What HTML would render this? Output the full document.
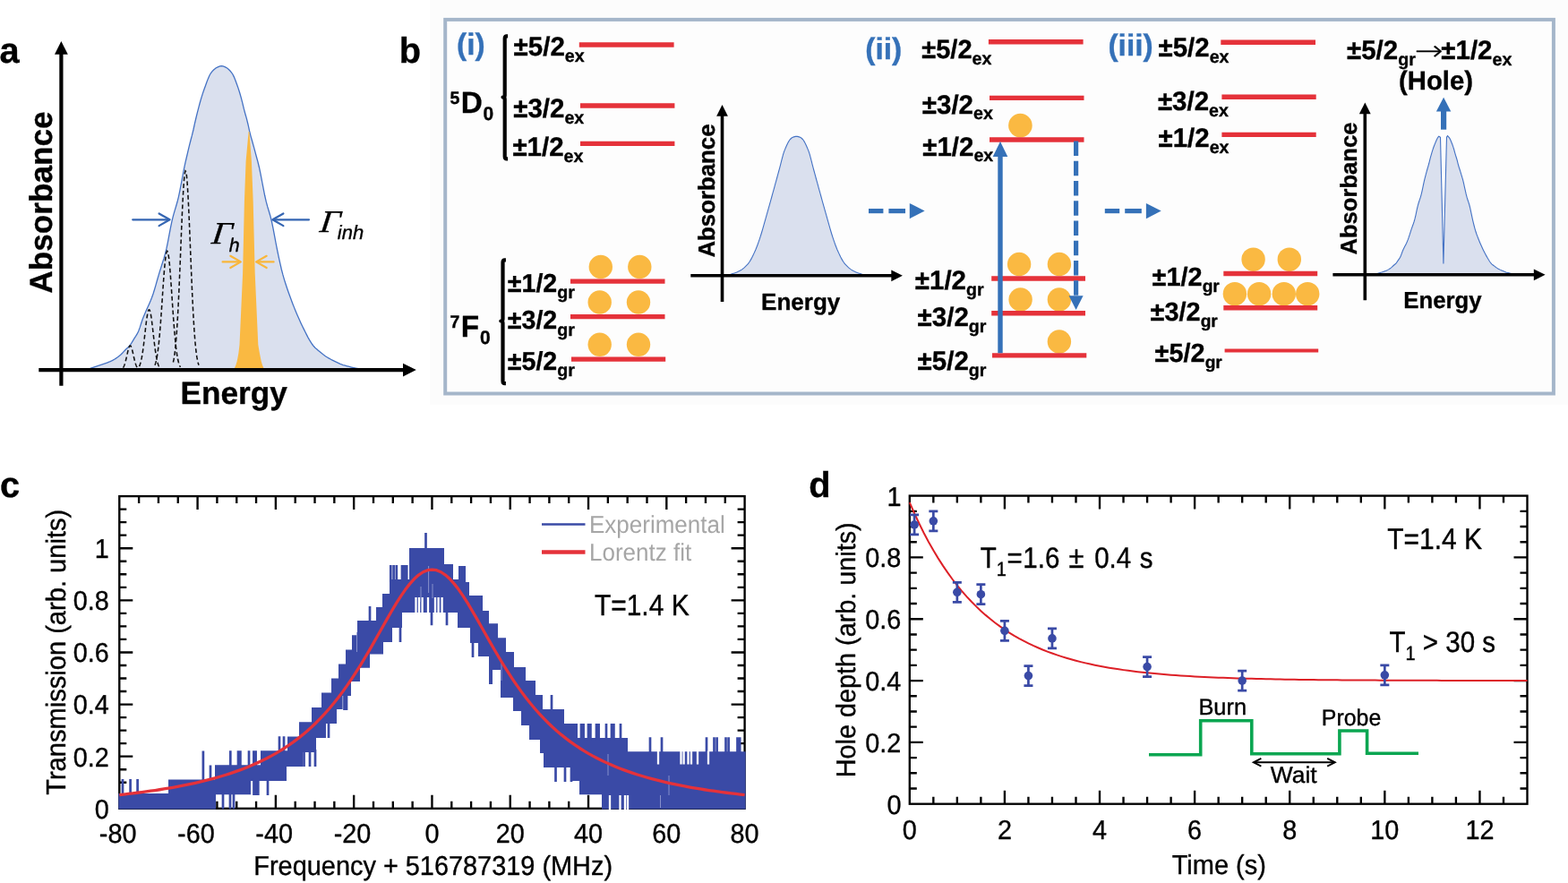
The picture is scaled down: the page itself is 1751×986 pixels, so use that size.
<!DOCTYPE html>
<html lang="en">
<head>
<meta charset="utf-8">
<title>Spectral hole burning figure</title>
<style>
html,body{margin:0;padding:0;background:#fff;}
body{width:1751px;height:986px;overflow:hidden;}
svg{display:block;font-family:"Liberation Sans",sans-serif;text-rendering:geometricPrecision;}
text{stroke:#000;stroke-width:0.35px;stroke-linejoin:round;}
</style>
</head>
<body>
<svg width="1751" height="986" viewBox="0 0 1751 986">
<rect x="480" y="0" width="1271" height="452" fill="#fcfcfc"/>
<rect x="497.2" y="21.9" width="1237.7" height="417.6" fill="#fdfdfd" stroke="#a5b6ca" stroke-width="4"/>
<text font-size="39.8" font-weight="bold" transform="translate(-0.4 69.8) scale(1 1.01)">a</text>
<path d="M97.8 412.6 L99.3 412.03 L100.79 411.47 L102.29 410.92 L103.78 410.38 L105.28 409.85 L106.77 409.33 L108.27 408.82 L109.76 408.31 L111.26 407.82 L112.75 407.35 L114.25 406.88 L115.74 406.39 L117.24 405.88 L118.73 405.34 L120.23 404.77 L121.72 404.19 L123.22 403.57 L124.71 402.89 L126.21 402.15 L127.7 401.31 L129.19 400.36 L130.69 399.3 L132.19 398.16 L133.68 396.96 L135.18 395.65 L136.67 394.17 L138.17 392.6 L139.66 391.04 L141.16 389.56 L142.65 388.17 L144.15 386.7 L145.64 384.95 L147.13 382.7 L148.63 380.18 L150.12 377.7 L151.62 375.4 L153.12 372.96 L154.61 369.96 L156.11 365.9 L157.6 361.26 L159.1 356.76 L160.59 352.91 L162.09 349.4 L163.58 346.07 L165.08 342.81 L166.57 339.49 L168.06 335.99 L169.56 332.2 L171.06 327.96 L172.55 323.19 L174.05 318.07 L175.54 312.8 L177.04 307.58 L178.53 302.63 L180.03 297.93 L181.52 293.28 L183.02 288.43 L184.51 283.16 L186 277.14 L187.5 269.9 L189 261.98 L190.49 254.08 L191.99 246.88 L193.48 240.89 L194.98 235.69 L196.47 230.75 L197.97 225.54 L199.46 219.54 L200.96 212.43 L202.45 204.58 L203.95 196.5 L205.44 188.69 L206.94 181.65 L208.43 175.25 L209.93 168.88 L211.42 162.6 L212.92 156.75 L214.41 151.18 L215.91 145 L217.4 138.17 L218.9 131.77 L220.39 125.71 L221.89 119.88 L223.38 114.24 L224.88 109.08 L226.37 104.37 L227.87 100 L229.36 95.93 L230.86 91.82 L232.35 87.88 L233.84 84.42 L235.34 81.76 L236.84 79.87 L238.33 78.25 L239.83 76.9 L241.32 75.84 L242.81 75.05 L244.31 74.4 L245.81 73.88 L247.3 73.6 L248.86 73.9 L250.42 74.44 L251.98 75.15 L253.54 76.01 L255.1 77.21 L256.66 78.72 L258.22 80.53 L259.78 82.75 L261.34 85.87 L262.9 89.69 L264.46 93.94 L266.02 98.34 L267.58 103.21 L269.14 108.65 L270.7 114.67 L272.26 121.2 L273.82 126.98 L275.38 132.42 L276.94 138.72 L278.5 145.93 L280.06 152.06 L281.62 157.52 L283.18 163.15 L284.74 168.94 L286.3 174.73 L287.86 180.38 L289.42 186.73 L290.98 194.17 L292.54 202.25 L294.1 210.45 L295.66 218.26 L297.22 225.17 L298.78 230.88 L300.34 235.97 L301.9 241.25 L303.46 247.51 L305.02 255.06 L306.58 263.35 L308.14 271.75 L309.7 279.65 L311.26 287.02 L312.82 294.23 L314.38 300.97 L315.94 306.94 L317.5 312.32 L319.06 317.31 L320.62 322 L322.18 326.48 L323.74 330.84 L325.3 335.08 L326.86 339.17 L328.42 343.12 L329.98 346.96 L331.54 350.68 L333.1 354.3 L334.66 357.82 L336.22 361.2 L337.78 364.47 L339.34 367.65 L340.9 370.77 L342.46 373.86 L344.02 376.83 L345.58 379.55 L347.14 382.13 L348.7 384.51 L350.26 386.54 L351.82 388.18 L353.38 389.61 L354.94 390.91 L356.5 392.2 L358.06 393.52 L359.62 394.81 L361.18 396.04 L362.74 397.18 L364.3 398.22 L365.86 399.19 L367.42 400.1 L368.98 400.97 L370.54 401.8 L372.1 402.58 L373.66 403.32 L375.22 404.06 L376.78 404.82 L378.34 405.59 L379.9 406.32 L381.46 406.97 L383.02 407.51 L384.58 407.97 L386.14 408.4 L387.7 408.82 L389.26 409.24 L390.82 409.65 L392.38 410.04 L393.94 410.42 L395.5 410.76 L397.06 411.06 L398.62 411.36 L400.18 411.7 L401.74 412.11 L403.3 412.6 Z" fill="#dae0ee"/>
<path d="M97.8 412.6 L99.3 412.03 L100.79 411.47 L102.29 410.92 L103.78 410.38 L105.28 409.85 L106.77 409.33 L108.27 408.82 L109.76 408.31 L111.26 407.82 L112.75 407.35 L114.25 406.88 L115.74 406.39 L117.24 405.88 L118.73 405.34 L120.23 404.77 L121.72 404.19 L123.22 403.57 L124.71 402.89 L126.21 402.15 L127.7 401.31 L129.19 400.36 L130.69 399.3 L132.19 398.16 L133.68 396.96 L135.18 395.65 L136.67 394.17 L138.17 392.6 L139.66 391.04 L141.16 389.56 L142.65 388.17 L144.15 386.7 L145.64 384.95 L147.13 382.7 L148.63 380.18 L150.12 377.7 L151.62 375.4 L153.12 372.96 L154.61 369.96 L156.11 365.9 L157.6 361.26 L159.1 356.76 L160.59 352.91 L162.09 349.4 L163.58 346.07 L165.08 342.81 L166.57 339.49 L168.06 335.99 L169.56 332.2 L171.06 327.96 L172.55 323.19 L174.05 318.07 L175.54 312.8 L177.04 307.58 L178.53 302.63 L180.03 297.93 L181.52 293.28 L183.02 288.43 L184.51 283.16 L186 277.14 L187.5 269.9 L189 261.98 L190.49 254.08 L191.99 246.88 L193.48 240.89 L194.98 235.69 L196.47 230.75 L197.97 225.54 L199.46 219.54 L200.96 212.43 L202.45 204.58 L203.95 196.5 L205.44 188.69 L206.94 181.65 L208.43 175.25 L209.93 168.88 L211.42 162.6 L212.92 156.75 L214.41 151.18 L215.91 145 L217.4 138.17 L218.9 131.77 L220.39 125.71 L221.89 119.88 L223.38 114.24 L224.88 109.08 L226.37 104.37 L227.87 100 L229.36 95.93 L230.86 91.82 L232.35 87.88 L233.84 84.42 L235.34 81.76 L236.84 79.87 L238.33 78.25 L239.83 76.9 L241.32 75.84 L242.81 75.05 L244.31 74.4 L245.81 73.88 L247.3 73.6 L248.86 73.9 L250.42 74.44 L251.98 75.15 L253.54 76.01 L255.1 77.21 L256.66 78.72 L258.22 80.53 L259.78 82.75 L261.34 85.87 L262.9 89.69 L264.46 93.94 L266.02 98.34 L267.58 103.21 L269.14 108.65 L270.7 114.67 L272.26 121.2 L273.82 126.98 L275.38 132.42 L276.94 138.72 L278.5 145.93 L280.06 152.06 L281.62 157.52 L283.18 163.15 L284.74 168.94 L286.3 174.73 L287.86 180.38 L289.42 186.73 L290.98 194.17 L292.54 202.25 L294.1 210.45 L295.66 218.26 L297.22 225.17 L298.78 230.88 L300.34 235.97 L301.9 241.25 L303.46 247.51 L305.02 255.06 L306.58 263.35 L308.14 271.75 L309.7 279.65 L311.26 287.02 L312.82 294.23 L314.38 300.97 L315.94 306.94 L317.5 312.32 L319.06 317.31 L320.62 322 L322.18 326.48 L323.74 330.84 L325.3 335.08 L326.86 339.17 L328.42 343.12 L329.98 346.96 L331.54 350.68 L333.1 354.3 L334.66 357.82 L336.22 361.2 L337.78 364.47 L339.34 367.65 L340.9 370.77 L342.46 373.86 L344.02 376.83 L345.58 379.55 L347.14 382.13 L348.7 384.51 L350.26 386.54 L351.82 388.18 L353.38 389.61 L354.94 390.91 L356.5 392.2 L358.06 393.52 L359.62 394.81 L361.18 396.04 L362.74 397.18 L364.3 398.22 L365.86 399.19 L367.42 400.1 L368.98 400.97 L370.54 401.8 L372.1 402.58 L373.66 403.32 L375.22 404.06 L376.78 404.82 L378.34 405.59 L379.9 406.32 L381.46 406.97 L383.02 407.51 L384.58 407.97 L386.14 408.4 L387.7 408.82 L389.26 409.24 L390.82 409.65 L392.38 410.04 L393.94 410.42 L395.5 410.76 L397.06 411.06 L398.62 411.36 L400.18 411.7 L401.74 412.11 L403.3 412.6" fill="none" stroke="#4472c4" stroke-width="1.3"/>
<path d="M137.5 410.57 L137.94 409.85 L138.38 408.98 L138.81 407.94 L139.25 406.72 L139.69 405.33 L140.12 403.77 L140.56 402.05 L141 400.21 L141.44 398.27 L141.88 396.28 L142.31 394.31 L142.75 392.41 L143.19 390.65 L143.62 389.09 L144.06 387.8 L144.5 386.83 L144.94 386.22 L145.38 386 L145.81 386.18 L146.25 386.74 L146.69 387.67 L147.12 388.93 L147.56 390.46 L148 392.2 L148.44 394.09 L148.88 396.06 L149.31 398.04 L149.75 399.99 L150.19 401.85 L150.62 403.58 L151.06 405.16 L151.5 406.57 L151.94 407.81 L152.38 408.87 L152.81 409.76 L153.25 410.49 L153.69 411.09 L154.12 411.57 L154.56 411.94 L155 412.23" fill="none" stroke="#111" stroke-width="1.55" stroke-dasharray="4.8 3"/>
<path d="M155.5 409.14 L156.06 407.87 L156.62 406.28 L157.19 404.33 L157.75 401.98 L158.31 399.19 L158.88 395.96 L159.44 392.29 L160 388.2 L160.56 383.74 L161.12 379 L161.69 374.06 L162.25 369.08 L162.81 364.19 L163.38 359.57 L163.94 355.37 L164.5 351.77 L165.06 348.91 L165.62 346.91 L166.19 345.86 L166.75 345.8 L167.31 346.74 L167.88 348.64 L168.44 351.41 L169 354.94 L169.56 359.08 L170.12 363.66 L170.69 368.53 L171.25 373.51 L171.81 378.45 L172.38 383.23 L172.94 387.72 L173.5 391.86 L174.06 395.58 L174.62 398.86 L175.19 401.69 L175.75 404.09 L176.31 406.08 L176.88 407.71 L177.44 409.02 L178 410.04" fill="none" stroke="#111" stroke-width="1.55" stroke-dasharray="4.8 3"/>
<path d="M173 407.69 L173.71 405.64 L174.43 402.98 L175.14 399.59 L175.85 395.37 L176.56 390.22 L177.28 384.07 L177.99 376.89 L178.7 368.71 L179.41 359.62 L180.12 349.77 L180.84 339.39 L181.55 328.79 L182.26 318.33 L182.97 308.4 L183.69 299.42 L184.4 291.81 L185.11 285.91 L185.82 282.03 L186.54 280.36 L187.25 280.99 L187.96 283.88 L188.68 288.89 L189.39 295.76 L190.1 304.16 L190.81 313.71 L191.53 323.98 L192.24 334.56 L192.95 345.08 L193.66 355.21 L194.38 364.67 L195.09 373.28 L195.8 380.92 L196.51 387.54 L197.22 393.14 L197.94 397.78 L198.65 401.53 L199.36 404.51 L200.07 406.82 L200.79 408.58 L201.5 409.9" fill="none" stroke="#111" stroke-width="1.55" stroke-dasharray="4.8 3"/>
<path d="M193.4 404.51 L194.12 401.19 L194.83 396.87 L195.55 391.34 L196.26 384.43 L196.97 375.97 L197.69 365.83 L198.41 353.96 L199.12 340.4 L199.84 325.26 L200.55 308.81 L201.27 291.43 L201.98 273.61 L202.69 255.96 L203.41 239.15 L204.12 223.89 L204.84 210.86 L205.56 200.68 L206.27 193.87 L206.99 190.78 L207.7 191.55 L208.41 196.16 L209.13 204.36 L209.84 215.74 L210.56 229.74 L211.28 245.71 L211.99 262.94 L212.71 280.73 L213.42 298.44 L214.13 315.5 L214.85 331.47 L215.56 346 L216.28 358.9 L217 370.08 L217.71 379.54 L218.43 387.36 L219.14 393.7 L219.85 398.73 L220.57 402.63 L221.28 405.59 L222 407.8" fill="none" stroke="#111" stroke-width="1.55" stroke-dasharray="4.8 3"/>
<path d="M260.8 413.4 Q263.6 408.4 264.6 403.8 Q265.7 398.6 266.4 394.3 L267.5 385 L271.1 305 L272.9 225 L274.6 180 L277.6 147 L278.4 147 L280.9 180 L282.7 225 L284.7 305 L288.3 385 L289.9 394.3 Q290.7 398.6 291.8 403.8 Q292.8 408.4 295.6 413.4 Z" fill="#fab942"/>
<line x1="68.4" y1="59.8" x2="68.4" y2="430.7" stroke="#000" stroke-width="4.2"/>
<polygon points="68.4,46 61,60.8 75.8,60.8" fill="#000"/>
<line x1="43.3" y1="413.1" x2="451" y2="413.1" stroke="#000" stroke-width="4.2"/>
<polygon points="464.8,413.1 450,405.7 450,420.5" fill="#000"/>
<line x1="148.2" y1="245.3" x2="188.8" y2="245.3" stroke="#3465b2" stroke-width="2.2" stroke-linecap="round"/>
<path d="M177.6 238.5 L189.6 245.3 L177.6 252.1" fill="none" stroke="#3465b2" stroke-width="2.2" stroke-linejoin="round" stroke-linecap="round"/>
<line x1="345" y1="245.3" x2="305.2" y2="245.3" stroke="#3465b2" stroke-width="2.2" stroke-linecap="round"/>
<path d="M316.4 238.5 L304.4 245.3 L316.4 252.1" fill="none" stroke="#3465b2" stroke-width="2.2" stroke-linejoin="round" stroke-linecap="round"/>
<line x1="248.6" y1="292.4" x2="268.1" y2="292.4" stroke="#f9b63a" stroke-width="2.2" stroke-linecap="round"/>
<path d="M257.3 285.8 L268.9 292.4 L257.3 299" fill="none" stroke="#f9b63a" stroke-width="2.2" stroke-linejoin="round" stroke-linecap="round"/>
<line x1="305.6" y1="292.4" x2="286.9" y2="292.4" stroke="#f9b63a" stroke-width="2.2" stroke-linecap="round"/>
<path d="M297.7 285.8 L286.1 292.4 L297.7 299" fill="none" stroke="#f9b63a" stroke-width="2.2" stroke-linejoin="round" stroke-linecap="round"/>
<text transform="translate(235.6 272.3) skewX(-7) scale(1.12 1)" font-size="35" font-style="italic" font-family='"Liberation Serif", serif'>Γ</text>
<text x="255.8" y="280.5" font-size="21.4" font-style="italic">h</text>
<text transform="translate(356.3 258.9) skewX(-7) scale(1.12 1)" font-size="35" font-style="italic" font-family='"Liberation Serif", serif'>Γ</text>
<text x="376.8" y="267.4" font-size="22" font-style="italic">inh</text>
<text transform="translate(57.6 226) rotate(-90) scale(1 1.01)" font-size="35.2" font-weight="bold" text-anchor="middle">Absorbance</text>
<text font-size="35.2" font-weight="bold" text-anchor="middle" transform="translate(261.2 450.6) scale(1 1.01)">Energy</text>
<text font-size="39.8" font-weight="bold" transform="translate(445.8 69.8) scale(1 1.01)">b</text>
<text font-size="33.5" font-weight="bold" fill="#3571b8" style="stroke:#3571b8" transform="translate(510 61.3) scale(1 1.01)">(i)</text>
<path d="M567.1 40.4L565.9 40.4 Q563.7 40.4 563.7 43 L563.7 106.4 Q563.7 108.6 561.5 108.6 Q563.7 108.6 563.7 110.8 L563.7 174.8 Q563.7 177.4 565.9 177.4 L567.1 177.4" fill="none" stroke="#000" stroke-width="4.2" stroke-linejoin="round"/>
<text transform="translate(573.6 62.1) scale(1 1.01)" font-size="29.5" font-weight="bold">±5/2<tspan font-size="19.6" dy="6.73">ex</tspan></text>
<text transform="translate(573.2 130.8) scale(1 1.01)" font-size="29.5" font-weight="bold">±3/2<tspan font-size="19.6" dy="6.73">ex</tspan></text>
<text transform="translate(572.4 174) scale(1 1.01)" font-size="29.5" font-weight="bold">±1/2<tspan font-size="19.6" dy="6.73">ex</tspan></text>
<line x1="646.8" y1="50" x2="752.6" y2="50" stroke="#e5323a" stroke-width="5.4"/>
<line x1="648" y1="118" x2="753.4" y2="118" stroke="#e5323a" stroke-width="5.4"/>
<line x1="648" y1="160.4" x2="753.4" y2="160.4" stroke="#e5323a" stroke-width="5.4"/>
<text transform="translate(502.6 125.7) scale(1 1.01)" font-size="33.3" font-weight="bold"><tspan font-size="19.5" dy="-9.5">5</tspan><tspan dy="9.5" dx="1.3">D</tspan><tspan font-size="21" dy="8" dx="0.6">0</tspan></text>
<path d="M564.9 290.4L563.7 290.4 Q561.5 290.4 561.5 293 L561.5 356.3 Q561.5 358.5 559.3 358.5 Q561.5 358.5 561.5 360.7 L561.5 425.6 Q561.5 428.2 563.7 428.2 L564.9 428.2" fill="none" stroke="#000" stroke-width="4.2" stroke-linejoin="round"/>
<circle cx="670.8" cy="298" r="13.2" fill="#fab942"/>
<circle cx="714.3" cy="298" r="13.2" fill="#fab942"/>
<circle cx="669.7" cy="337.5" r="13.2" fill="#fab942"/>
<circle cx="713" cy="337.5" r="13.2" fill="#fab942"/>
<circle cx="669.7" cy="384.8" r="13.2" fill="#fab942"/>
<circle cx="713" cy="384.8" r="13.2" fill="#fab942"/>
<line x1="637" y1="314.1" x2="742.5" y2="314.1" stroke="#e5323a" stroke-width="5.4"/>
<line x1="637" y1="353.6" x2="742.5" y2="353.6" stroke="#e5323a" stroke-width="5.4"/>
<line x1="638" y1="401.1" x2="743.2" y2="401.1" stroke="#e5323a" stroke-width="5.4"/>
<text transform="translate(566.8 325.7) scale(1 1.01)" font-size="28.6" font-weight="bold">±1/2<tspan font-size="19.6" dy="7.33">gr</tspan></text>
<text transform="translate(566.8 367.2) scale(1 1.01)" font-size="28.6" font-weight="bold">±3/2<tspan font-size="19.6" dy="7.33">gr</tspan></text>
<text transform="translate(566.8 412.5) scale(1 1.01)" font-size="28.6" font-weight="bold">±5/2<tspan font-size="19.6" dy="7.33">gr</tspan></text>
<text transform="translate(502.6 375.5) scale(1 1.01)" font-size="33.3" font-weight="bold"><tspan font-size="19.5" dy="-9.5">7</tspan><tspan dy="9.5" dx="1.3">F</tspan><tspan font-size="21" dy="8" dx="0.8">0</tspan></text>
<path d="M810.4 307.6 L811.39 307.42 L812.38 307.21 L813.36 306.99 L814.35 306.74 L815.34 306.47 L816.32 306.18 L817.31 305.88 L818.3 305.56 L819.29 305.24 L820.27 304.9 L821.26 304.54 L822.25 304.15 L823.24 303.74 L824.23 303.29 L825.21 302.81 L826.2 302.29 L827.19 301.73 L828.17 301.11 L829.16 300.43 L830.15 299.67 L831.14 298.84 L832.12 297.93 L833.11 296.96 L834.1 295.91 L835.09 294.78 L836.07 293.58 L837.06 292.21 L838.05 290.63 L839.04 288.89 L840.02 287 L841.01 284.99 L842 282.88 L842.99 280.72 L843.98 278.48 L844.96 276.05 L845.95 273.44 L846.94 270.68 L847.92 267.81 L848.91 264.86 L849.9 261.77 L850.89 258.49 L851.88 255.08 L852.86 251.61 L853.85 248.12 L854.84 244.68 L855.82 241.21 L856.81 237.71 L857.8 234.18 L858.79 230.65 L859.77 227.11 L860.76 223.56 L861.75 220.01 L862.74 216.45 L863.73 212.88 L864.71 209.3 L865.7 205.71 L866.69 202.11 L867.67 198.5 L868.66 194.88 L869.65 191.27 L870.64 187.66 L871.62 183.88 L872.61 179.93 L873.6 176.03 L874.59 172.43 L875.57 169.36 L876.56 166.86 L877.55 164.49 L878.54 162.26 L879.52 160.21 L880.51 158.36 L881.5 156.78 L882.49 155.49 L883.48 154.54 L884.46 153.83 L885.45 153.27 L886.44 152.89 L887.42 152.61 L888.41 152.4 L889.4 152.3 L890.39 152.4 L891.38 152.61 L892.36 152.89 L893.35 153.27 L894.34 153.83 L895.32 154.54 L896.31 155.49 L897.3 156.78 L898.29 158.36 L899.27 160.21 L900.26 162.26 L901.25 164.49 L902.24 166.86 L903.23 169.36 L904.21 172.43 L905.2 176.03 L906.19 179.93 L907.17 183.88 L908.16 187.66 L909.15 191.27 L910.14 194.88 L911.12 198.5 L912.11 202.11 L913.1 205.71 L914.09 209.3 L915.07 212.88 L916.06 216.45 L917.05 220.01 L918.04 223.56 L919.02 227.11 L920.01 230.65 L921 234.18 L921.99 237.71 L922.98 241.21 L923.96 244.68 L924.95 248.12 L925.94 251.61 L926.92 255.08 L927.91 258.49 L928.9 261.77 L929.89 264.86 L930.88 267.81 L931.86 270.68 L932.85 273.44 L933.84 276.05 L934.82 278.48 L935.81 280.72 L936.8 282.88 L937.79 284.99 L938.77 287 L939.76 288.89 L940.75 290.63 L941.74 292.21 L942.73 293.58 L943.71 294.78 L944.7 295.91 L945.69 296.96 L946.67 297.93 L947.66 298.84 L948.65 299.67 L949.64 300.43 L950.62 301.11 L951.61 301.73 L952.6 302.29 L953.59 302.81 L954.57 303.29 L955.56 303.74 L956.55 304.15 L957.54 304.54 L958.52 304.9 L959.51 305.24 L960.5 305.56 L961.49 305.88 L962.48 306.18 L963.46 306.47 L964.45 306.74 L965.44 306.99 L966.42 307.21 L967.41 307.42 L968.4 307.6 Z" fill="#dae0ee"/>
<path d="M810.4 307.6 L811.39 307.42 L812.38 307.21 L813.36 306.99 L814.35 306.74 L815.34 306.47 L816.32 306.18 L817.31 305.88 L818.3 305.56 L819.29 305.24 L820.27 304.9 L821.26 304.54 L822.25 304.15 L823.24 303.74 L824.23 303.29 L825.21 302.81 L826.2 302.29 L827.19 301.73 L828.17 301.11 L829.16 300.43 L830.15 299.67 L831.14 298.84 L832.12 297.93 L833.11 296.96 L834.1 295.91 L835.09 294.78 L836.07 293.58 L837.06 292.21 L838.05 290.63 L839.04 288.89 L840.02 287 L841.01 284.99 L842 282.88 L842.99 280.72 L843.98 278.48 L844.96 276.05 L845.95 273.44 L846.94 270.68 L847.92 267.81 L848.91 264.86 L849.9 261.77 L850.89 258.49 L851.88 255.08 L852.86 251.61 L853.85 248.12 L854.84 244.68 L855.82 241.21 L856.81 237.71 L857.8 234.18 L858.79 230.65 L859.77 227.11 L860.76 223.56 L861.75 220.01 L862.74 216.45 L863.73 212.88 L864.71 209.3 L865.7 205.71 L866.69 202.11 L867.67 198.5 L868.66 194.88 L869.65 191.27 L870.64 187.66 L871.62 183.88 L872.61 179.93 L873.6 176.03 L874.59 172.43 L875.57 169.36 L876.56 166.86 L877.55 164.49 L878.54 162.26 L879.52 160.21 L880.51 158.36 L881.5 156.78 L882.49 155.49 L883.48 154.54 L884.46 153.83 L885.45 153.27 L886.44 152.89 L887.42 152.61 L888.41 152.4 L889.4 152.3 L890.39 152.4 L891.38 152.61 L892.36 152.89 L893.35 153.27 L894.34 153.83 L895.32 154.54 L896.31 155.49 L897.3 156.78 L898.29 158.36 L899.27 160.21 L900.26 162.26 L901.25 164.49 L902.24 166.86 L903.23 169.36 L904.21 172.43 L905.2 176.03 L906.19 179.93 L907.17 183.88 L908.16 187.66 L909.15 191.27 L910.14 194.88 L911.12 198.5 L912.11 202.11 L913.1 205.71 L914.09 209.3 L915.07 212.88 L916.06 216.45 L917.05 220.01 L918.04 223.56 L919.02 227.11 L920.01 230.65 L921 234.18 L921.99 237.71 L922.98 241.21 L923.96 244.68 L924.95 248.12 L925.94 251.61 L926.92 255.08 L927.91 258.49 L928.9 261.77 L929.89 264.86 L930.88 267.81 L931.86 270.68 L932.85 273.44 L933.84 276.05 L934.82 278.48 L935.81 280.72 L936.8 282.88 L937.79 284.99 L938.77 287 L939.76 288.89 L940.75 290.63 L941.74 292.21 L942.73 293.58 L943.71 294.78 L944.7 295.91 L945.69 296.96 L946.67 297.93 L947.66 298.84 L948.65 299.67 L949.64 300.43 L950.62 301.11 L951.61 301.73 L952.6 302.29 L953.59 302.81 L954.57 303.29 L955.56 303.74 L956.55 304.15 L957.54 304.54 L958.52 304.9 L959.51 305.24 L960.5 305.56 L961.49 305.88 L962.48 306.18 L963.46 306.47 L964.45 306.74 L965.44 306.99 L966.42 307.21 L967.41 307.42 L968.4 307.6" fill="none" stroke="#4472c4" stroke-width="1.1"/>
<line x1="806.5" y1="128.7" x2="806.5" y2="337" stroke="#000" stroke-width="3.6"/>
<polygon points="806.5,117.1 800.1,129.7 812.9,129.7" fill="#000"/>
<line x1="771.3" y1="307.8" x2="996.3" y2="307.8" stroke="#000" stroke-width="3.6"/>
<polygon points="1007.9,307.8 995.3,301.4 995.3,314.2" fill="#000"/>
<text transform="translate(797.7 213) rotate(-90) scale(1 1.01)" font-size="25.8" font-weight="bold" text-anchor="middle">Absorbance</text>
<text font-size="26" font-weight="bold" text-anchor="middle" transform="translate(894.2 346.2) scale(1 1.01)">Energy</text>
<line x1="970" y1="235.6" x2="986.4" y2="235.6" stroke="#3571b8" stroke-width="5.2"/>
<line x1="992.4" y1="235.6" x2="1011" y2="235.6" stroke="#3571b8" stroke-width="5.2"/>
<polygon points="1032.6,235.6 1015.8,227 1015.8,244.2" fill="#3571b8"/>
<line x1="1233.8" y1="235.6" x2="1250.2" y2="235.6" stroke="#3571b8" stroke-width="5.2"/>
<line x1="1256.2" y1="235.6" x2="1274.8" y2="235.6" stroke="#3571b8" stroke-width="5.2"/>
<polygon points="1296.7,235.6 1279.9,227 1279.9,244.2" fill="#3571b8"/>
<text font-size="33.6" font-weight="bold" fill="#3571b8" style="stroke:#3571b8" transform="translate(966.2 65.6) scale(1 1.01)">(ii)</text>
<text transform="translate(1029.2 64.9) scale(1 1.01)" font-size="29.1" font-weight="bold">±5/2<tspan font-size="19.6" dy="6.73">ex</tspan></text>
<text transform="translate(1029.8 126.6) scale(1 1.01)" font-size="29.5" font-weight="bold">±3/2<tspan font-size="19.6" dy="6.73">ex</tspan></text>
<text transform="translate(1030.2 173.6) scale(1 1.01)" font-size="29.5" font-weight="bold">±1/2<tspan font-size="19.6" dy="6.73">ex</tspan></text>
<circle cx="1139.4" cy="140.1" r="13.3" fill="#fab942"/>
<line x1="1103.9" y1="46.8" x2="1209.6" y2="46.8" stroke="#e5323a" stroke-width="5.4"/>
<line x1="1105" y1="109.4" x2="1210.5" y2="109.4" stroke="#e5323a" stroke-width="5.4"/>
<line x1="1105" y1="156" x2="1210.5" y2="156" stroke="#e5323a" stroke-width="5.4"/>
<circle cx="1138.1" cy="295" r="13.2" fill="#fab942"/>
<circle cx="1182.9" cy="295" r="13.2" fill="#fab942"/>
<circle cx="1139.6" cy="334.5" r="13.2" fill="#fab942"/>
<circle cx="1182.9" cy="334.5" r="13.2" fill="#fab942"/>
<circle cx="1182.9" cy="381.5" r="13.2" fill="#fab942"/>
<line x1="1107.2" y1="311" x2="1212" y2="311" stroke="#e5323a" stroke-width="5.4"/>
<line x1="1107.2" y1="349.8" x2="1212" y2="349.8" stroke="#e5323a" stroke-width="5.4"/>
<line x1="1108" y1="396.9" x2="1213.3" y2="396.9" stroke="#e5323a" stroke-width="5.4"/>
<text transform="translate(1021.8 322.6) scale(1 1.01)" font-size="29.5" font-weight="bold">±1/2<tspan font-size="19.6" dy="7.33">gr</tspan></text>
<text transform="translate(1024.6 363.9) scale(1 1.01)" font-size="29.5" font-weight="bold">±3/2<tspan font-size="19.6" dy="7.33">gr</tspan></text>
<text transform="translate(1024.6 412.5) scale(1 1.01)" font-size="29.5" font-weight="bold">±5/2<tspan font-size="19.6" dy="7.33">gr</tspan></text>
<line x1="1117" y1="394.2" x2="1117" y2="173" stroke="#3571b8" stroke-width="5.4"/>
<polygon points="1117,158 1108.7,175 1125.3,175" fill="#3571b8"/>
<line x1="1201.6" y1="157.6" x2="1201.6" y2="330.6" stroke="#3571b8" stroke-width="5.2" stroke-dasharray="16.4 5.85"/>
<polygon points="1201.6,345.9 1193.6,330.2 1209.6,330.2" fill="#3571b8"/>
<text font-size="33.6" font-weight="bold" fill="#3571b8" style="stroke:#3571b8" transform="translate(1237.4 61.7) scale(1 1.01)">(iii)</text>
<text transform="translate(1293.5 63.3) scale(1 1.01)" font-size="29.5" font-weight="bold">±5/2<tspan font-size="19.6" dy="6.73">ex</tspan></text>
<text transform="translate(1292.9 123.1) scale(1 1.01)" font-size="29.5" font-weight="bold">±3/2<tspan font-size="19.6" dy="6.73">ex</tspan></text>
<text transform="translate(1293.5 164.3) scale(1 1.01)" font-size="29.5" font-weight="bold">±1/2<tspan font-size="19.6" dy="6.73">ex</tspan></text>
<line x1="1363.3" y1="47.3" x2="1469" y2="47.3" stroke="#e5323a" stroke-width="5.4"/>
<line x1="1364.4" y1="108.2" x2="1469.7" y2="108.2" stroke="#e5323a" stroke-width="5.4"/>
<line x1="1364.4" y1="150.4" x2="1469.7" y2="150.4" stroke="#e5323a" stroke-width="5.4"/>
<circle cx="1399.6" cy="289.7" r="13.2" fill="#fab942"/>
<circle cx="1439.8" cy="289.7" r="13.2" fill="#fab942"/>
<circle cx="1378.9" cy="328.2" r="13.2" fill="#fab942"/>
<circle cx="1406.1" cy="328.2" r="13.2" fill="#fab942"/>
<circle cx="1433.8" cy="328.2" r="13.2" fill="#fab942"/>
<circle cx="1460.2" cy="328.2" r="13.2" fill="#fab942"/>
<line x1="1366.3" y1="305.5" x2="1471.2" y2="305.5" stroke="#e5323a" stroke-width="5.4"/>
<line x1="1366.3" y1="343.8" x2="1471.2" y2="343.8" stroke="#e5323a" stroke-width="5.4"/>
<line x1="1367.6" y1="391.6" x2="1472.2" y2="391.6" stroke="#e5323a" stroke-width="4"/>
<text transform="translate(1286.6 318.6) scale(1 1.01)" font-size="28.9" font-weight="bold">±1/2<tspan font-size="19.2" dy="7.33">gr</tspan></text>
<text transform="translate(1284.6 357.9) scale(1 1.01)" font-size="28.9" font-weight="bold">±3/2<tspan font-size="19.2" dy="7.33">gr</tspan></text>
<text transform="translate(1289.6 403.8) scale(1 1.01)" font-size="28.9" font-weight="bold">±5/2<tspan font-size="19.2" dy="7.33">gr</tspan></text>
<text transform="translate(1504 65.9) scale(1 1.01)" font-size="29.5" font-weight="bold">±5/2<tspan font-size="19.6" dy="7.33">gr</tspan></text>
<text transform="translate(1579.7 66.9) scale(1.06 0.86)" font-size="36" font-weight="200" font-family='"DejaVu Sans", sans-serif'>→</text>
<text transform="translate(1609.3 65.9) scale(1 1.01)" font-size="29.5" font-weight="bold">±1/2<tspan font-size="19.6" dy="6.73">ex</tspan></text>
<text font-size="29.3" font-weight="bold" text-anchor="middle" transform="translate(1603.5 100.4) scale(1 1.01)">(Hole)</text>
<line x1="1612.1" y1="144.7" x2="1612.1" y2="123" stroke="#3571b8" stroke-width="6.2"/>
<polygon points="1612.1,108.7 1603.9,124.5 1620.3,124.5" fill="#3571b8"/>
<path d="M1534.26 306.6 L1535.12 306.3 L1535.99 306.02 L1536.85 305.74 L1537.72 305.46 L1538.58 305.19 L1539.44 304.93 L1540.31 304.66 L1541.17 304.41 L1542.03 304.17 L1542.9 303.93 L1543.76 303.67 L1544.63 303.41 L1545.49 303.12 L1546.35 302.83 L1547.22 302.51 L1548.08 302.18 L1548.94 301.8 L1549.81 301.37 L1550.67 300.88 L1551.54 300.33 L1552.4 299.73 L1553.26 299.1 L1554.13 298.37 L1554.99 297.58 L1555.85 296.77 L1556.72 296 L1557.58 295.29 L1558.45 294.52 L1559.31 293.58 L1560.17 292.37 L1561.04 291.06 L1561.9 289.84 L1562.76 288.64 L1563.63 287.2 L1564.49 285.2 L1565.36 282.82 L1566.22 280.53 L1567.08 278.58 L1567.95 276.81 L1568.81 275.12 L1569.67 273.43 L1570.54 271.67 L1571.4 269.77 L1572.27 267.63 L1573.13 265.19 L1573.99 262.55 L1574.86 259.84 L1575.72 257.18 L1576.59 254.69 L1577.45 252.3 L1578.31 249.86 L1579.18 247.22 L1580.04 244.2 L1580.9 240.51 L1581.77 236.43 L1582.63 232.4 L1583.5 228.87 L1584.36 225.98 L1585.22 223.4 L1586.09 220.8 L1586.95 217.85 L1587.81 214.28 L1588.68 210.26 L1589.54 206.1 L1590.41 202.14 L1591.27 198.64 L1592.13 195.37 L1593 192.1 L1593.86 188.98 L1594.72 186.11 L1595.59 183.01 L1596.45 179.51 L1597.32 176.22 L1598.18 173.13 L1599.04 170.15 L1599.91 167.33 L1600.77 164.8 L1601.63 162.48 L1602.5 160.36 L1603.36 158.25 L1604.23 156.21 L1605.09 154.46 L1605.95 153.17 L1606.82 152.24 L1608.5 153.2 L1611.9 294.5 L1615.5 153.2 L1616.51 151.64 L1617.41 152.52 L1618.31 153.57 L1619.21 155.1 L1620.11 157.05 L1621.01 159.25 L1621.91 161.53 L1622.82 164.13 L1623.72 167.01 L1624.62 170.31 L1625.52 173.47 L1626.42 176.27 L1627.32 179.4 L1628.22 183.1 L1629.13 186.22 L1630.03 189.03 L1630.93 191.96 L1631.83 194.95 L1632.73 197.88 L1633.63 200.95 L1634.53 204.64 L1635.43 208.76 L1636.34 212.98 L1637.24 216.98 L1638.14 220.43 L1639.04 223.24 L1639.94 225.85 L1640.84 228.77 L1641.74 232.42 L1642.65 236.61 L1643.55 240.94 L1644.45 245.03 L1645.35 248.82 L1646.25 252.5 L1647.15 255.87 L1648.05 258.8 L1648.95 261.46 L1649.86 263.93 L1650.76 266.26 L1651.66 268.51 L1652.56 270.7 L1653.46 272.8 L1654.36 274.82 L1655.26 276.78 L1656.17 278.67 L1657.07 280.51 L1657.97 282.28 L1658.87 283.98 L1659.77 285.62 L1660.67 287.23 L1661.57 288.82 L1662.47 290.32 L1663.38 291.7 L1664.28 292.99 L1665.18 294.14 L1666.08 295.05 L1666.98 295.81 L1667.88 296.49 L1668.78 297.15 L1669.69 297.83 L1670.59 298.49 L1671.49 299.11 L1672.39 299.68 L1673.29 300.19 L1674.19 300.67 L1675.09 301.13 L1675.99 301.56 L1676.9 301.96 L1677.8 302.34 L1678.7 302.72 L1679.6 303.12 L1680.5 303.51 L1681.4 303.87 L1682.3 304.16 L1683.21 304.41 L1684.11 304.63 L1685.01 304.85 L1685.91 305.06 L1686.81 305.27 L1687.71 305.47 L1688.61 305.66 L1689.51 305.82 L1690.42 305.98 L1691.32 306.15 L1692.22 306.35 L1693.12 306.6 Z" fill="#dae0ee"/>
<path d="M1534.26 306.6 L1535.12 306.3 L1535.99 306.02 L1536.85 305.74 L1537.72 305.46 L1538.58 305.19 L1539.44 304.93 L1540.31 304.66 L1541.17 304.41 L1542.03 304.17 L1542.9 303.93 L1543.76 303.67 L1544.63 303.41 L1545.49 303.12 L1546.35 302.83 L1547.22 302.51 L1548.08 302.18 L1548.94 301.8 L1549.81 301.37 L1550.67 300.88 L1551.54 300.33 L1552.4 299.73 L1553.26 299.1 L1554.13 298.37 L1554.99 297.58 L1555.85 296.77 L1556.72 296 L1557.58 295.29 L1558.45 294.52 L1559.31 293.58 L1560.17 292.37 L1561.04 291.06 L1561.9 289.84 L1562.76 288.64 L1563.63 287.2 L1564.49 285.2 L1565.36 282.82 L1566.22 280.53 L1567.08 278.58 L1567.95 276.81 L1568.81 275.12 L1569.67 273.43 L1570.54 271.67 L1571.4 269.77 L1572.27 267.63 L1573.13 265.19 L1573.99 262.55 L1574.86 259.84 L1575.72 257.18 L1576.59 254.69 L1577.45 252.3 L1578.31 249.86 L1579.18 247.22 L1580.04 244.2 L1580.9 240.51 L1581.77 236.43 L1582.63 232.4 L1583.5 228.87 L1584.36 225.98 L1585.22 223.4 L1586.09 220.8 L1586.95 217.85 L1587.81 214.28 L1588.68 210.26 L1589.54 206.1 L1590.41 202.14 L1591.27 198.64 L1592.13 195.37 L1593 192.1 L1593.86 188.98 L1594.72 186.11 L1595.59 183.01 L1596.45 179.51 L1597.32 176.22 L1598.18 173.13 L1599.04 170.15 L1599.91 167.33 L1600.77 164.8 L1601.63 162.48 L1602.5 160.36 L1603.36 158.25 L1604.23 156.21 L1605.09 154.46 L1605.95 153.17 L1606.82 152.24 L1608.5 153.2 L1611.9 294.5 L1615.5 153.2 L1616.51 151.64 L1617.41 152.52 L1618.31 153.57 L1619.21 155.1 L1620.11 157.05 L1621.01 159.25 L1621.91 161.53 L1622.82 164.13 L1623.72 167.01 L1624.62 170.31 L1625.52 173.47 L1626.42 176.27 L1627.32 179.4 L1628.22 183.1 L1629.13 186.22 L1630.03 189.03 L1630.93 191.96 L1631.83 194.95 L1632.73 197.88 L1633.63 200.95 L1634.53 204.64 L1635.43 208.76 L1636.34 212.98 L1637.24 216.98 L1638.14 220.43 L1639.04 223.24 L1639.94 225.85 L1640.84 228.77 L1641.74 232.42 L1642.65 236.61 L1643.55 240.94 L1644.45 245.03 L1645.35 248.82 L1646.25 252.5 L1647.15 255.87 L1648.05 258.8 L1648.95 261.46 L1649.86 263.93 L1650.76 266.26 L1651.66 268.51 L1652.56 270.7 L1653.46 272.8 L1654.36 274.82 L1655.26 276.78 L1656.17 278.67 L1657.07 280.51 L1657.97 282.28 L1658.87 283.98 L1659.77 285.62 L1660.67 287.23 L1661.57 288.82 L1662.47 290.32 L1663.38 291.7 L1664.28 292.99 L1665.18 294.14 L1666.08 295.05 L1666.98 295.81 L1667.88 296.49 L1668.78 297.15 L1669.69 297.83 L1670.59 298.49 L1671.49 299.11 L1672.39 299.68 L1673.29 300.19 L1674.19 300.67 L1675.09 301.13 L1675.99 301.56 L1676.9 301.96 L1677.8 302.34 L1678.7 302.72 L1679.6 303.12 L1680.5 303.51 L1681.4 303.87 L1682.3 304.16 L1683.21 304.41 L1684.11 304.63 L1685.01 304.85 L1685.91 305.06 L1686.81 305.27 L1687.71 305.47 L1688.61 305.66 L1689.51 305.82 L1690.42 305.98 L1691.32 306.15 L1692.22 306.35 L1693.12 306.6" fill="none" stroke="#4472c4" stroke-width="1.1"/>
<line x1="1524.3" y1="126.2" x2="1524.3" y2="335.2" stroke="#000" stroke-width="3.6"/>
<polygon points="1524.3,114.4 1517.9,127.2 1530.7,127.2" fill="#000"/>
<line x1="1488.4" y1="306.8" x2="1713.8" y2="306.8" stroke="#000" stroke-width="3.6"/>
<polygon points="1725.6,306.8 1712.8,300.4 1712.8,313.2" fill="#000"/>
<text transform="translate(1515.2 210.6) rotate(-90) scale(1 1.01)" font-size="25.6" font-weight="bold" text-anchor="middle">Absorbance</text>
<text font-size="25.8" font-weight="bold" text-anchor="middle" transform="translate(1611 344.3) scale(1 1.01)">Energy</text>
<text font-size="39.8" font-weight="bold" transform="translate(0 555.3) scale(1 1.01)">c</text>
<path d="M220.59 902.8v-15 M220.59 554.1v15M307.88 902.8v-15 M307.88 554.1v15M395.16 902.8v-15 M395.16 554.1v15M482.45 902.8v-15 M482.45 554.1v15M569.74 902.8v-15 M569.74 554.1v15M657.03 902.8v-15 M657.03 554.1v15M744.31 902.8v-15 M744.31 554.1v15M155.12 902.8v-8 M155.12 554.1v8M176.94 902.8v-8 M176.94 554.1v8M198.77 902.8v-8 M198.77 554.1v8M242.41 902.8v-8 M242.41 554.1v8M264.23 902.8v-8 M264.23 554.1v8M286.05 902.8v-8 M286.05 554.1v8M329.7 902.8v-8 M329.7 554.1v8M351.52 902.8v-8 M351.52 554.1v8M373.34 902.8v-8 M373.34 554.1v8M416.98 902.8v-8 M416.98 554.1v8M438.81 902.8v-8 M438.81 554.1v8M460.63 902.8v-8 M460.63 554.1v8M504.27 902.8v-8 M504.27 554.1v8M526.09 902.8v-8 M526.09 554.1v8M547.92 902.8v-8 M547.92 554.1v8M591.56 902.8v-8 M591.56 554.1v8M613.38 902.8v-8 M613.38 554.1v8M635.2 902.8v-8 M635.2 554.1v8M678.85 902.8v-8 M678.85 554.1v8M700.67 902.8v-8 M700.67 554.1v8M722.49 902.8v-8 M722.49 554.1v8M766.13 902.8v-8 M766.13 554.1v8M787.96 902.8v-8 M787.96 554.1v8M809.78 902.8v-8 M809.78 554.1v8M133.3 844.68h15 M831.6 844.68h-15M133.3 786.57h15 M831.6 786.57h-15M133.3 728.45h15 M831.6 728.45h-15M133.3 670.33h15 M831.6 670.33h-15M133.3 612.22h15 M831.6 612.22h-15M133.3 888.27h8 M831.6 888.27h-8M133.3 873.74h8 M831.6 873.74h-8M133.3 859.21h8 M831.6 859.21h-8M133.3 830.15h8 M831.6 830.15h-8M133.3 815.62h8 M831.6 815.62h-8M133.3 801.1h8 M831.6 801.1h-8M133.3 772.04h8 M831.6 772.04h-8M133.3 757.51h8 M831.6 757.51h-8M133.3 742.98h8 M831.6 742.98h-8M133.3 713.92h8 M831.6 713.92h-8M133.3 699.39h8 M831.6 699.39h-8M133.3 684.86h8 M831.6 684.86h-8M133.3 655.8h8 M831.6 655.8h-8M133.3 641.27h8 M831.6 641.27h-8M133.3 626.75h8 M831.6 626.75h-8M133.3 597.69h8 M831.6 597.69h-8M133.3 583.16h8 M831.6 583.16h-8M133.3 568.63h8 M831.6 568.63h-8" fill="none" stroke="#000" stroke-width="2.35"/>
<rect x="133.3" y="554.1" width="698.3" height="348.7" fill="none" stroke="#000" stroke-width="2.35"/>
<path d="M132.3 885.9 L188 885.9 L188 870.5 L240 870.5 L240 854.3 L291 854.3 L291 838.3 L321 838.3 L321 822.5 L334 822.5 L334 806.3 L348 806.3 L348 790 L359 790 L359 773.6 L370 773.6 L370 757.6 L378 757.6 L378 741.6 L386 741.6 L386 725.6 L393 725.6 L393 709.2 L399 709.2 L399 692.9 L420 692.9 L420 677.9 L427 677.9 L427 662.9 L435 662.9 L435 647 L457 647 L457 612 L496 612 L496 630 L506 630 L506 647 L512 647 L512 632 L520 632 L520 650 L524 650 L524 665 L539 665 L539 682 L546 682 L546 696.3 L556 696.3 L556 712.3 L565 712.3 L565 727.9 L574 727.9 L574 744.9 L587 744.9 L587 759.9 L598 759.9 L598 776 L606 776 L606 792 L630 792 L630 808 L645 808 L645 824 L701 824 L701 839.2 L832.6 839.2 L832.6 903.6 L672 903.6 L672 887.2 L647 887.2 L647 872 L639 872 L639 857 L607 857 L607 841 L603 841 L603 826 L591 826 L591 810 L582 810 L582 794 L573 794 L573 779 L559 779 L559 748 L550 748 L550 764 L546 764 L546 733 L534 733 L534 718 L525 718 L525 700.9 L511 700.9 L511 683.9 L449 683.9 L449 700.9 L438 700.9 L438 716.9 L428 716.9 L428 730.5 L413 730.5 L413 745.8 L402 745.8 L402 761 L392 761 L392 777 L382.6 777 L382.6 792 L376 792 L376 808 L364 808 L364 824 L353 824 L353 840 L338 840 L338 856 L320 856 L320 872 L280 872 L280 887.2 L241 887.2 L241 903.6 L132.3 903.6 Z" fill="#3a4aa6"/>
<path d="M137 888.9V869.9M145.6 888.9V869.9M153.6 888.9V869.9M226.9 873.5V838.5M235 873.5V854.5M257.3 857.3V838.3M266 857.3V838.3M268.4 857.3V838.3M278 857.3V838.3M283.4 857.3V838.3M285.6 857.3V838.3M312 841.3V822.3M317 841.3V822.3M413 695.9V676.9M436.3 650V631M439.6 650V631M442.8 650V631M449 650V631M451.6 650V631M454.2 650V631M475.5 615V595.04M616 795V776M649 827V808M651.6 827V808M657 827V808M659.4 827V808M666 827V808M668.6 827V808M677 827V808M683 827V808M685.4 827V808M693 827V808M726 842.2V823.2M739 842.2V823.2M789 842.2V823.2M797.5 842.2V823.2M800.6 842.2V823.2M810.5 842.2V823.2M813.6 842.2V823.2M823.5 842.2V823.2M826.2 842.2V823.2M249 884.2V903.2M257 884.2V903.2M261 884.2V903.2M283.5 869V888M286 869V888M288.3 869V888M299 869V888M339.5 837V856M346 837V856M352 837V856M367 805V824M384.5 774V793M387 774V793M447 697.9V716.9M482 680.9V698.3M499 680.9V698.3M620.5 854V873M631 854V873M638 854V873M528 715V734" fill="none" stroke="#3a4aa6" stroke-width="2.7"/>
<path d="M464.5 684.5V667M468 684.5V667M471.6 684.5V667M478 684.5V667M486 684.5V667M489.6 684.5V667M493.6 684.5V667M735 838.6V853.5M760.5 838.6V853.5M763.6 838.6V853.5M768.5 838.6V853.5M772 838.6V853.5M779 838.6V853.5M791 838.6V853.5M681 904V888M692.5 904V888M698 904V888M701 904V888" fill="none" stroke="#fff" stroke-width="2.3"/>
<path d="M478.6 632V662M470 655V672M483 652V668M398.5 706V728M560 740V760M679 842V866M747 866V888M737.5 888V902" fill="none" stroke="#8f98cf" stroke-width="0.9"/>
<path d="M133.3 887.6 L138.29 887.05 L143.28 886.48 L148.26 885.88 L153.25 885.26 L158.24 884.61 L163.23 883.94 L168.22 883.24 L173.2 882.51 L178.19 881.75 L183.18 880.95 L188.17 880.12 L193.15 879.26 L198.14 878.35 L203.13 877.4 L208.12 876.41 L213.11 875.37 L218.09 874.28 L223.08 873.13 L228.07 871.93 L233.06 870.68 L238.05 869.36 L243.03 867.97 L248.02 866.51 L253.01 864.97 L258 863.35 L262.98 861.65 L267.97 859.85 L272.96 857.96 L277.95 855.96 L282.94 853.85 L287.92 851.62 L292.91 849.26 L297.9 846.77 L302.89 844.13 L307.88 841.33 L312.86 838.37 L317.85 835.23 L322.84 831.9 L327.83 828.38 L332.81 824.63 L337.8 820.66 L342.79 816.45 L347.78 811.98 L352.77 807.24 L357.75 802.21 L362.74 796.89 L367.73 791.26 L372.72 785.3 L377.71 779.01 L382.69 772.38 L387.68 765.41 L392.67 758.1 L397.66 750.46 L402.64 742.51 L407.63 734.27 L412.62 725.79 L417.61 717.11 L422.6 708.31 L427.58 699.46 L432.57 690.66 L437.56 682.04 L442.55 673.72 L447.54 665.86 L452.52 658.61 L457.51 652.12 L462.5 646.56 L467.49 642.06 L472.47 638.75 L477.46 636.73 L482.45 636.04 L487.44 636.73 L492.43 638.75 L497.41 642.06 L502.4 646.56 L507.39 652.12 L512.38 658.61 L517.37 665.86 L522.35 673.72 L527.34 682.04 L532.33 690.66 L537.32 699.46 L542.3 708.31 L547.29 717.11 L552.28 725.79 L557.27 734.27 L562.26 742.51 L567.24 750.46 L572.23 758.1 L577.22 765.41 L582.21 772.38 L587.2 779.01 L592.18 785.3 L597.17 791.26 L602.16 796.89 L607.15 802.21 L612.13 807.24 L617.12 811.98 L622.11 816.45 L627.1 820.66 L632.09 824.63 L637.07 828.38 L642.06 831.9 L647.05 835.23 L652.04 838.37 L657.03 841.33 L662.01 844.13 L667 846.77 L671.99 849.26 L676.98 851.62 L681.96 853.85 L686.95 855.96 L691.94 857.96 L696.93 859.85 L701.92 861.65 L706.9 863.35 L711.89 864.97 L716.88 866.51 L721.87 867.97 L726.86 869.36 L731.84 870.68 L736.83 871.93 L741.82 873.13 L746.81 874.28 L751.79 875.37 L756.78 876.41 L761.77 877.4 L766.76 878.35 L771.75 879.26 L776.73 880.12 L781.72 880.95 L786.71 881.75 L791.7 882.51 L796.69 883.24 L801.67 883.94 L806.66 884.61 L811.65 885.26 L816.64 885.88 L821.62 886.48 L826.61 887.05 L831.6 887.6" fill="none" stroke="#e5323a" stroke-width="3.3" stroke-linejoin="round"/>
<text font-size="28.8" text-anchor="middle" transform="translate(131.6 941.2) scale(1 1.05)">-80</text>
<text font-size="28.8" text-anchor="middle" transform="translate(218.89 941.2) scale(1 1.05)">-60</text>
<text font-size="28.8" text-anchor="middle" transform="translate(306.18 941.2) scale(1 1.05)">-40</text>
<text font-size="28.8" text-anchor="middle" transform="translate(393.46 941.2) scale(1 1.05)">-20</text>
<text font-size="28.8" text-anchor="middle" transform="translate(482.45 941.2) scale(1 1.05)">0</text>
<text font-size="28.8" text-anchor="middle" transform="translate(569.74 941.2) scale(1 1.05)">20</text>
<text font-size="28.8" text-anchor="middle" transform="translate(657.03 941.2) scale(1 1.05)">40</text>
<text font-size="28.8" text-anchor="middle" transform="translate(744.31 941.2) scale(1 1.05)">60</text>
<text font-size="28.8" text-anchor="middle" transform="translate(831.6 941.2) scale(1 1.05)">80</text>
<text font-size="28.8" text-anchor="end" transform="translate(121.8 913.7) scale(1 1.05)">0</text>
<text font-size="28.8" text-anchor="end" transform="translate(121.8 855.58) scale(1 1.05)">0.2</text>
<text font-size="28.8" text-anchor="end" transform="translate(121.8 797.47) scale(1 1.05)">0.4</text>
<text font-size="28.8" text-anchor="end" transform="translate(121.8 739.35) scale(1 1.05)">0.6</text>
<text font-size="28.8" text-anchor="end" transform="translate(121.8 681.23) scale(1 1.05)">0.8</text>
<text font-size="28.8" text-anchor="end" transform="translate(121.8 623.12) scale(1 1.05)">1</text>
<text transform="translate(73.2 728.3) rotate(-90) scale(1 1.05)" font-size="29.1" text-anchor="middle">Transmission (arb. units)</text>
<text font-size="28.9" text-anchor="middle" transform="translate(483.7 977.2) scale(1 1.05)">Frequency + 516787319 (MHz)</text>
<line x1="605" y1="585.5" x2="653.5" y2="585.5" stroke="#3a4aa6" stroke-width="2.6"/>
<line x1="605" y1="616.5" x2="653.5" y2="616.5" stroke="#e5323a" stroke-width="4.4"/>
<text font-size="26" fill="#a6a6a6" style="stroke:none" transform="translate(658 594.5) scale(1 1.05)">Experimental</text>
<text font-size="26" fill="#a6a6a6" style="stroke:none" transform="translate(658 626) scale(1 1.05)">Lorentz fit</text>
<text font-size="29.8" transform="translate(663.9 686.8) scale(1.005 1.11)">T=1.4 K</text>
<text font-size="39.8" font-weight="bold" transform="translate(903.2 555) scale(1 1.01)">d</text>
<path d="M1121.91 897.7v-15 M1121.91 553.6v15M1228.02 897.7v-15 M1228.02 553.6v15M1334.12 897.7v-15 M1334.12 553.6v15M1440.23 897.7v-15 M1440.23 553.6v15M1546.34 897.7v-15 M1546.34 553.6v15M1652.45 897.7v-15 M1652.45 553.6v15M1042.33 897.7v-8 M1042.33 553.6v8M1068.85 897.7v-8 M1068.85 553.6v8M1095.38 897.7v-8 M1095.38 553.6v8M1148.43 897.7v-8 M1148.43 553.6v8M1174.96 897.7v-8 M1174.96 553.6v8M1201.49 897.7v-8 M1201.49 553.6v8M1254.54 897.7v-8 M1254.54 553.6v8M1281.07 897.7v-8 M1281.07 553.6v8M1307.6 897.7v-8 M1307.6 553.6v8M1360.65 897.7v-8 M1360.65 553.6v8M1387.18 897.7v-8 M1387.18 553.6v8M1413.7 897.7v-8 M1413.7 553.6v8M1466.76 897.7v-8 M1466.76 553.6v8M1493.28 897.7v-8 M1493.28 553.6v8M1519.81 897.7v-8 M1519.81 553.6v8M1572.87 897.7v-8 M1572.87 553.6v8M1599.39 897.7v-8 M1599.39 553.6v8M1625.92 897.7v-8 M1625.92 553.6v8M1678.97 897.7v-8 M1678.97 553.6v8M1015.8 828.88h15 M1705.5 828.88h-15M1015.8 760.06h15 M1705.5 760.06h-15M1015.8 691.24h15 M1705.5 691.24h-15M1015.8 622.42h15 M1705.5 622.42h-15M1015.8 880.5h8 M1705.5 880.5h-8M1015.8 863.29h8 M1705.5 863.29h-8M1015.8 846.09h8 M1705.5 846.09h-8M1015.8 811.68h8 M1705.5 811.68h-8M1015.8 794.47h8 M1705.5 794.47h-8M1015.8 777.27h8 M1705.5 777.27h-8M1015.8 742.86h8 M1705.5 742.86h-8M1015.8 725.65h8 M1705.5 725.65h-8M1015.8 708.45h8 M1705.5 708.45h-8M1015.8 674.04h8 M1705.5 674.04h-8M1015.8 656.83h8 M1705.5 656.83h-8M1015.8 639.62h8 M1705.5 639.62h-8M1015.8 605.22h8 M1705.5 605.22h-8M1015.8 588.01h8 M1705.5 588.01h-8M1015.8 570.81h8 M1705.5 570.81h-8" fill="none" stroke="#000" stroke-width="2.35"/>
<rect x="1015.8" y="553.6" width="689.7" height="344.1" fill="none" stroke="#000" stroke-width="2.35"/>
<path d="M1015.8 561.17 L1021.11 573.22 L1026.41 584.54 L1031.72 595.17 L1037.02 605.16 L1042.33 614.55 L1047.63 623.37 L1052.94 631.65 L1058.24 639.43 L1063.55 646.74 L1068.85 653.6 L1074.16 660.05 L1079.46 666.11 L1084.77 671.8 L1090.08 677.15 L1095.38 682.17 L1100.69 686.89 L1105.99 691.33 L1111.3 695.49 L1116.6 699.4 L1121.91 703.08 L1127.21 706.53 L1132.52 709.77 L1137.82 712.82 L1143.13 715.68 L1148.43 718.37 L1153.74 720.9 L1159.05 723.27 L1164.35 725.5 L1169.66 727.59 L1174.96 729.56 L1180.27 731.41 L1185.57 733.14 L1190.88 734.77 L1196.18 736.31 L1201.49 737.75 L1206.79 739.1 L1212.1 740.37 L1217.4 741.56 L1222.71 742.68 L1228.02 743.73 L1233.32 744.72 L1238.63 745.65 L1243.93 746.53 L1249.24 747.35 L1254.54 748.12 L1259.85 748.84 L1265.15 749.52 L1270.46 750.16 L1275.76 750.76 L1281.07 751.32 L1286.37 751.85 L1291.68 752.35 L1296.99 752.82 L1302.29 753.25 L1307.6 753.67 L1312.9 754.05 L1318.21 754.42 L1323.51 754.76 L1328.82 755.08 L1334.12 755.38 L1339.43 755.67 L1344.73 755.93 L1350.04 756.18 L1355.34 756.42 L1360.65 756.64 L1365.96 756.85 L1371.26 757.04 L1376.57 757.22 L1381.87 757.39 L1387.18 757.56 L1392.48 757.71 L1397.79 757.85 L1403.09 757.98 L1408.4 758.11 L1413.7 758.23 L1419.01 758.34 L1424.31 758.44 L1429.62 758.54 L1434.93 758.63 L1440.23 758.72 L1445.54 758.8 L1450.84 758.88 L1456.15 758.95 L1461.45 759.02 L1466.76 759.08 L1472.06 759.14 L1477.37 759.19 L1482.67 759.25 L1487.98 759.3 L1493.28 759.34 L1498.59 759.39 L1503.9 759.43 L1509.2 759.47 L1514.51 759.5 L1519.81 759.54 L1525.12 759.57 L1530.42 759.6 L1535.73 759.62 L1541.03 759.65 L1546.34 759.68 L1551.64 759.7 L1556.95 759.72 L1562.25 759.74 L1567.56 759.76 L1572.87 759.78 L1578.17 759.8 L1583.48 759.81 L1588.78 759.83 L1594.09 759.84 L1599.39 759.85 L1604.7 759.87 L1610 759.88 L1615.31 759.89 L1620.61 759.9 L1625.92 759.91 L1631.22 759.92 L1636.53 759.93 L1641.84 759.94 L1647.14 759.94 L1652.45 759.95 L1657.75 759.96 L1663.06 759.96 L1668.36 759.97 L1673.67 759.97 L1678.97 759.98 L1684.28 759.98 L1689.58 759.99 L1694.89 759.99 L1700.19 760 L1705.5 760" fill="none" stroke="#dd2027" stroke-width="2"/>
<path d="M1021.11 574.95V596.95 M1016.11 574.95h10 M1016.11 596.95h10" fill="none" stroke="#3a4aa6" stroke-width="2.7"/>
<circle cx="1021.11" cy="585.95" r="4.8" fill="#3a4aa6"/>
<path d="M1042.33 570.82V592.82 M1037.33 570.82h10 M1037.33 592.82h10" fill="none" stroke="#3a4aa6" stroke-width="2.7"/>
<circle cx="1042.33" cy="581.82" r="4.8" fill="#3a4aa6"/>
<path d="M1068.85 650.3V672.3 M1063.85 650.3h10 M1063.85 672.3h10" fill="none" stroke="#3a4aa6" stroke-width="2.7"/>
<circle cx="1068.85" cy="661.3" r="4.8" fill="#3a4aa6"/>
<path d="M1095.38 652.71V674.71 M1090.38 652.71h10 M1090.38 674.71h10" fill="none" stroke="#3a4aa6" stroke-width="2.7"/>
<circle cx="1095.38" cy="663.71" r="4.8" fill="#3a4aa6"/>
<path d="M1121.91 693.32V715.32 M1116.91 693.32h10 M1116.91 715.32h10" fill="none" stroke="#3a4aa6" stroke-width="2.7"/>
<circle cx="1121.91" cy="704.32" r="4.8" fill="#3a4aa6"/>
<path d="M1148.43 743.55V765.55 M1143.43 743.55h10 M1143.43 765.55h10" fill="none" stroke="#3a4aa6" stroke-width="2.7"/>
<circle cx="1148.43" cy="754.55" r="4.8" fill="#3a4aa6"/>
<path d="M1174.96 701.92V723.92 M1169.96 701.92h10 M1169.96 723.92h10" fill="none" stroke="#3a4aa6" stroke-width="2.7"/>
<circle cx="1174.96" cy="712.92" r="4.8" fill="#3a4aa6"/>
<path d="M1281.07 733.58V755.58 M1276.07 733.58h10 M1276.07 755.58h10" fill="none" stroke="#3a4aa6" stroke-width="2.7"/>
<circle cx="1281.07" cy="744.58" r="4.8" fill="#3a4aa6"/>
<path d="M1387.18 749.06V771.06 M1382.18 749.06h10 M1382.18 771.06h10" fill="none" stroke="#3a4aa6" stroke-width="2.7"/>
<circle cx="1387.18" cy="760.06" r="4.8" fill="#3a4aa6"/>
<path d="M1546.34 742.87V764.87 M1541.34 742.87h10 M1541.34 764.87h10" fill="none" stroke="#3a4aa6" stroke-width="2.7"/>
<circle cx="1546.34" cy="753.87" r="4.8" fill="#3a4aa6"/>
<text font-size="28.8" text-anchor="middle" transform="translate(1015.8 937) scale(1 1.05)">0</text>
<text font-size="28.8" text-anchor="middle" transform="translate(1121.91 937) scale(1 1.05)">2</text>
<text font-size="28.8" text-anchor="middle" transform="translate(1228.02 937) scale(1 1.05)">4</text>
<text font-size="28.8" text-anchor="middle" transform="translate(1334.12 937) scale(1 1.05)">6</text>
<text font-size="28.8" text-anchor="middle" transform="translate(1440.23 937) scale(1 1.05)">8</text>
<text font-size="28.8" text-anchor="middle" transform="translate(1546.34 937) scale(1 1.05)">10</text>
<text font-size="28.8" text-anchor="middle" transform="translate(1652.45 937) scale(1 1.05)">12</text>
<text font-size="28.8" text-anchor="end" transform="translate(1006.4 908.6) scale(1 1.05)">0</text>
<text font-size="28.8" text-anchor="end" transform="translate(1006.4 839.78) scale(1 1.05)">0.2</text>
<text font-size="28.8" text-anchor="end" transform="translate(1006.4 770.96) scale(1 1.05)">0.4</text>
<text font-size="28.8" text-anchor="end" transform="translate(1006.4 702.14) scale(1 1.05)">0.6</text>
<text font-size="28.8" text-anchor="end" transform="translate(1006.4 633.32) scale(1 1.05)">0.8</text>
<text font-size="28.8" text-anchor="end" transform="translate(1006.4 564.5) scale(1 1.05)">1</text>
<text transform="translate(955.2 725.8) rotate(-90) scale(1 1.05)" font-size="28.8" text-anchor="middle">Hole depth (arb. units)</text>
<text font-size="29" text-anchor="middle" transform="translate(1361.3 975.5) scale(1 1.05)">Time (s)</text>
<text transform="translate(1094.7 634.2) scale(1 1.11)" font-size="29.5">T<tspan font-size="20" dy="7.6">1</tspan><tspan dy="-7.6" dx="0.6">=</tspan><tspan dx="0.6">1.6 </tspan><tspan x="98.9" font-size="31">± </tspan><tspan x="127.5">0.4 </tspan><tspan x="178.1">s</tspan></text>
<text font-size="29.8" transform="translate(1549.2 613.1) scale(1.005 1.11)">T=1.4 K</text>
<text transform="translate(1551.5 728.4) scale(1 1.11)" font-size="29.5">T<tspan font-size="20" dy="7.6">1</tspan><tspan dy="-7.6"> &gt; 30 s</tspan></text>
<path d="M1283 842.8H1340.7V804.7H1397.8V841.8H1495.9V816H1526.6V841.2H1584" fill="none" stroke="#0ba651" stroke-width="3.6" stroke-linejoin="miter"/>
<text transform="translate(1338.4 797.6) scale(1.08 1.09)" font-size="23.5">Burn</text>
<text transform="translate(1475.8 810.2) scale(1.06 1.09)" font-size="23.5">Probe</text>
<text transform="translate(1418.8 873.8) scale(1.12 1.09)" font-size="23.6">Wait</text>
<line x1="1400.4" y1="851.3" x2="1490.2" y2="851.3" stroke="#000" stroke-width="1.9"/>
<path d="M1408.4 846.9L1399.8 851.3L1408.4 855.7 M1482.2 846.9L1490.8 851.3L1482.2 855.7" fill="none" stroke="#000" stroke-width="1.9"/>
</svg>
</body>
</html>
